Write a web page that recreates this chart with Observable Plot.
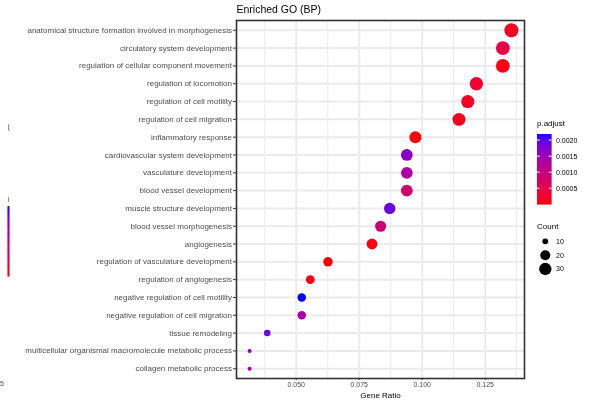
<!DOCTYPE html>
<html>
<head>
<meta charset="utf-8">
<script src="https://cdn.jsdelivr.net/npm/d3@7"></script>
<script src="https://cdn.jsdelivr.net/npm/@observablehq/plot@0.6"></script>
<style>
  html, body { margin: 0; padding: 0; background: white; }
  svg { display: block; will-change: transform; }
</style>
</head>
<body>
<div id="chart"></div>
<script>
// GO terms, top to bottom
const terms = [
  "anatomical structure formation involved in morphogenesis",
  "circulatory system development",
  "regulation of cellular component movement",
  "regulation of locomotion",
  "regulation of cell motility",
  "regulation of cell migration",
  "inflammatory response",
  "cardiovascular system development",
  "vasculature development",
  "blood vessel development",
  "muscle structure development",
  "blood vessel morphogenesis",
  "angiogenesis",
  "regulation of vasculature development",
  "regulation of angiogenesis",
  "negative regulation of cell motility",
  "negative regulation of cell migration",
  "tissue remodeling",
  "multicellular organismal macromolecule metabolic process",
  "collagen metabolic process"
];
const geneRatio = [0.1354, 0.1320, 0.1320, 0.1215, 0.1181, 0.1146, 0.0973, 0.0939, 0.0939, 0.0939,
                   0.0871, 0.0835, 0.0801, 0.0626, 0.0556, 0.0522, 0.0522, 0.0385, 0.0315, 0.0315];
const counts = [39, 38, 38, 35, 34, 33, 28, 27, 27, 27, 25, 24, 23, 18, 16, 15, 15, 11, 9, 9];
const padj = [0.00020, 0.00045, 0.00010, 0.00030, 0.00020, 0.00015, 0.00003, 0.00170, 0.00135, 0.00085,
              0.00192, 0.00095, 0.00008, 0.00001, 0.00005, 0.00219, 0.00140, 0.00190, 0.00170, 0.00145];

const xTicks = [0.05, 0.075, 0.1, 0.125];
const xMinor = [0.0375, 0.0625, 0.0875, 0.1125, 0.1375];
const sizeBreaks = [10, 20, 30];
const colorBreaks = [0.0005, 0.0010, 0.0015, 0.0020];
const titleText = "Enriched GO (BP)";
const xLabel = "Gene Ratio";

const data = terms.map((t, i) => ({term: t, ratio: geneRatio[i], count: counts[i], padj: padj[i]}));
const minCount = d3.min(counts);

const font = "'Liberation Sans', Arial, Helvetica, sans-serif";

const plot = Plot.plot({
  width: 593,
  height: 406,
  marginLeft: 236,
  marginRight: 69,
  marginTop: 20,
  marginBottom: 28,
  style: {fontFamily: font, fontSize: "8px", background: "white", overflow: "visible"},
  x: {domain: [0.0263, 0.1406]},
  y: {type: "point", domain: terms, padding: 0.55, round: false},
  color: {type: "linear", domain: d3.extent(padj), range: ["red", "blue"], interpolate: d3.interpolateLab},
  r: {type: "sqrt", domain: [0, 30], range: [2, 7]},
  marks: [
    Plot.gridY(terms, {stroke: "#ebebeb", strokeOpacity: 1, strokeWidth: 2}),
    Plot.ruleX(xMinor, {stroke: "#ebebeb", strokeWidth: 1}),
    Plot.ruleX(xTicks, {stroke: "#ebebeb", strokeWidth: 2}),
    Plot.dot(data, {x: "ratio", y: "term", r: d => d.count - minCount, fill: "padj", stroke: null}),
    Plot.frame({stroke: "#333333", strokeWidth: 1.6}),
    Plot.axisY({tickSize: 3, tickPadding: 1.5, stroke: "#333333", fill: "#4d4d4d", label: null, fontSize: 8}),
    Plot.axisX({ticks: xTicks, tickFormat: d3.format(".3f"), tickSize: 2, tickPadding: 2, stroke: "#333333", fill: "#4d4d4d", label: null, fontSize: 7}),
    Plot.text([xLabel], {frameAnchor: "bottom", dy: 17, lineAnchor: "middle", fontSize: 8, fill: "black"}),
    Plot.text([titleText], {frameAnchor: "top-left", dy: -10.7, textAnchor: "start", lineAnchor: "middle", fontSize: 10.5, fill: "black"})
  ]
});

// Legends (drawn with the plot's own scales)
const svg = d3.select(plot);
const color = plot.scale("color");
const rScale = plot.scale("r");
const [pMin, pMax] = color.domain;

// p.adjust colour bar
const barX = 537, barW = 14.5, barTop = 134, barBottom = 204;
const barY = d3.scaleLinear().domain([pMin, pMax]).range([barBottom, barTop]);
const lg = svg.append("g").attr("font-family", font).attr("text-anchor", "start");
lg.append("text").attr("x", 537).attr("y", 126).attr("font-size", 8).attr("fill", "black").text("p.adjust");
const nSteps = 70;
for (let i = 0; i < nSteps; i++) {
  const v0 = pMin + (pMax - pMin) * i / nSteps;
  const v1 = pMin + (pMax - pMin) * (i + 1) / nSteps;
  lg.append("rect")
    .attr("x", barX).attr("width", barW)
    .attr("y", barY(v1)).attr("height", barY(v0) - barY(v1) + 0.6)
    .attr("fill", color.apply((v0 + v1) / 2));
}
colorBreaks.forEach(b => {
  const y = barY(b);
  lg.append("line").attr("x1", barX).attr("x2", barX + 2.8).attr("y1", y).attr("y2", y).attr("stroke", "white").attr("stroke-width", 1);
  lg.append("line").attr("x1", barX + barW - 2.8).attr("x2", barX + barW).attr("y1", y).attr("y2", y).attr("stroke", "white").attr("stroke-width", 1);
  lg.append("text").attr("x", 556).attr("y", y).attr("dy", "0.35em").attr("font-size", 7).attr("fill", "black").text(d3.format(".4f")(b));
});

// Count size legend
lg.append("text").attr("x", 537).attr("y", 229).attr("font-size", 8).attr("fill", "black").text("Count");
const sizeYs = [241.3, 255.3, 269];
sizeBreaks.forEach((b, i) => {
  lg.append("circle").attr("cx", 545.3).attr("cy", sizeYs[i]).attr("r", rScale.apply(b - minCount)).attr("fill", "black");
  lg.append("text").attr("x", 556).attr("y", sizeYs[i]).attr("dy", "0.35em").attr("font-size", 7).attr("fill", "black").text(b);
});

// clipped remnants visible at the far left of the reference image
const rem = svg.append("g").attr("font-family", font).attr("fill", "#4d4d4d").attr("text-anchor", "start");
rem.append("text").attr("x", 7.5).attr("y", 129).attr("font-size", 7).text("(");
rem.append("text").attr("x", 7.5).attr("y", 202).attr("font-size", 7).text("l");
rem.append("text").attr("x", 0).attr("y", 386).attr("font-size", 7).text("5");
const remY = d3.scaleLinear().domain([pMin, pMax]).range([276, 206]);
for (let i = 0; i < 35; i++) {
  const v0 = pMin + (pMax - pMin) * i / 35;
  const v1 = pMin + (pMax - pMin) * (i + 1) / 35;
  rem.append("rect").attr("x", 7.5).attr("width", 2).attr("y", remY(v1)).attr("height", remY(v0) - remY(v1) + 0.6).attr("fill", color.apply((v0 + v1) / 2));
}

document.getElementById("chart").appendChild(plot);
</script>
</body>
</html>
